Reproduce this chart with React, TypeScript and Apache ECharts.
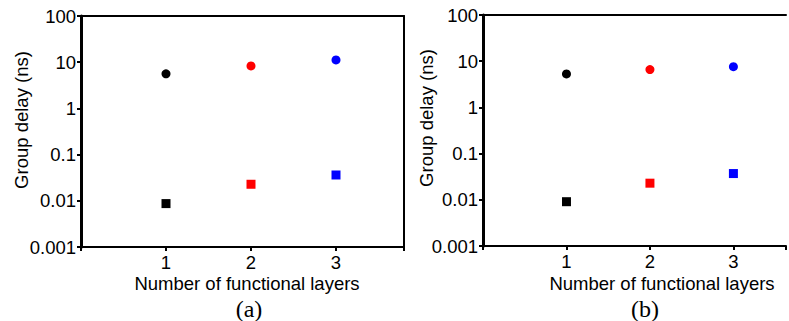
import React, { useEffect, useRef } from "react";
import * as echarts from "echarts";

// Number of functional layers on the x axis
const layers = [1, 2, 3];
// One colour per layer count
const layerColors = ["#000000", "#ff0000", "#0000ff"];

// Panel (a): group delay in ns
const circleDelayA = [5.6, 8.3, 11.2];
const squareDelayA = [0.0087, 0.0228, 0.0362];

// Panel (b): group delay in ns
const circleDelayB = [5.3, 6.6, 7.6];
const squareDelayB = [0.0091, 0.0229, 0.037];

// Decade tick labels of the log axis
const yTickLabels = ["0.001", "0.01", "0.1", "1", "10", "100"];

const FONT = "'Liberation Sans', Arial, sans-serif";
const SERIF = "'Liberation Serif', 'Times New Roman', serif";
const FS = 18.5;
const LINE = { color: "#000", width: 2 };
const YLINE = { color: "#000", width: 3 };

function makeX(gridIndex: number, max: number) {
  return {
    type: "value",
    gridIndex,
    position: "bottom",
    min: 0,
    max,
    interval: 1,
    splitLine: { show: false },
    axisLine: { show: true, onZero: false, lineStyle: LINE },
    axisTick: { show: true, length: 4, lineStyle: LINE },
    axisLabel: {
      margin: 6,
      color: "#000",
      fontFamily: FONT,
      fontSize: FS,
      formatter: (v: number) => (layers.includes(v) ? String(v) : ""),
    },
  };
}

// Frame edge drawn as a bare axis line
function frameX(gridIndex: number, max: number) {
  return {
    type: "value",
    gridIndex,
    position: "top",
    min: 0,
    max,
    splitLine: { show: false },
    axisLine: { show: true, onZero: false, lineStyle: LINE },
    axisTick: { show: false },
    axisLabel: { show: false },
  };
}

function makeY(gridIndex: number) {
  return {
    type: "log",
    logBase: 10,
    gridIndex,
    position: "left",
    min: 0.001,
    max: 100,
    splitLine: { show: false },
    minorTick: { show: false },
    axisLine: { show: true, onZero: false, lineStyle: YLINE },
    axisTick: { show: true, length: 4, lineStyle: LINE },
    axisLabel: {
      margin: 5,
      color: "#000",
      fontFamily: FONT,
      fontSize: FS,
      formatter: (v: number) => {
        const i = Math.round(Math.log10(v)) + 3;
        return yTickLabels[i] ?? "";
      },
    },
  };
}

function frameY(gridIndex: number) {
  return {
    type: "log",
    logBase: 10,
    gridIndex,
    position: "right",
    min: 0.001,
    max: 100,
    splitLine: { show: false },
    axisLine: { show: true, onZero: false, lineStyle: LINE },
    axisTick: { show: false },
    axisLabel: { show: false },
  };
}

function points(values: number[]) {
  return layers.map((x, i) => ({
    value: [x, values[i]],
    itemStyle: { color: layerColors[i], opacity: 1 },
  }));
}

function scatter(xIdx: number, yIdx: number, symbol: string, values: number[]) {
  return {
    type: "scatter",
    xAxisIndex: xIdx,
    yAxisIndex: yIdx,
    symbol,
    symbolSize: 9,
    itemStyle: { opacity: 1 },
    data: points(values),
  };
}

function label(text: string, x: number, y: number, font: string, rotate = false) {
  return {
    type: "text",
    x,
    y,
    rotation: rotate ? Math.PI / 2 : 0,
    style: {
      text,
      font,
      fill: "#000",
      align: "center",
      verticalAlign: "middle",
    },
  };
}

export default function App() {
  const ref = useRef<HTMLDivElement>(null);

  useEffect(() => {
    if (!ref.current) return;
    const chart = echarts.init(ref.current, undefined, { renderer: "svg" });
    const maxA = 3.8;
    const maxB = 3.63;
    chart.setOption({
      animation: false,
      backgroundColor: "#ffffff",
      grid: [
        { left: 81, top: 16, width: 323, height: 231 },
        { left: 483, top: 15, width: 306, height: 231 },
      ],
      xAxis: [makeX(0, maxA), frameX(0, maxA), makeX(1, maxB), frameX(1, maxB)],
      yAxis: [makeY(0), frameY(0), makeY(1)],
      series: [
        scatter(0, 0, "circle", circleDelayA),
        scatter(0, 0, "rect", squareDelayA),
        scatter(2, 2, "circle", circleDelayB),
        scatter(2, 2, "rect", squareDelayB),
      ],
      graphic: [
        label("Group delay (ns)", 21, 120, `${FS}px ${FONT}`, true),
        label("Group delay (ns)", 426, 118, `${FS}px ${FONT}`, true),
        label("Number of functional layers", 247, 283, `${FS}px ${FONT}`),
        label("Number of functional layers", 662, 283, `${FS}px ${FONT}`),
        label("(a)", 249, 309, `24px ${SERIF}`),
        label("(b)", 645, 309, `24px ${SERIF}`),
      ],
    });
    return () => chart.dispose();
  }, []);

  return (
    <div
      ref={ref}
      style={{ position: "absolute", left: 0, top: 0, width: 789, height: 321 }}
    />
  );
}
